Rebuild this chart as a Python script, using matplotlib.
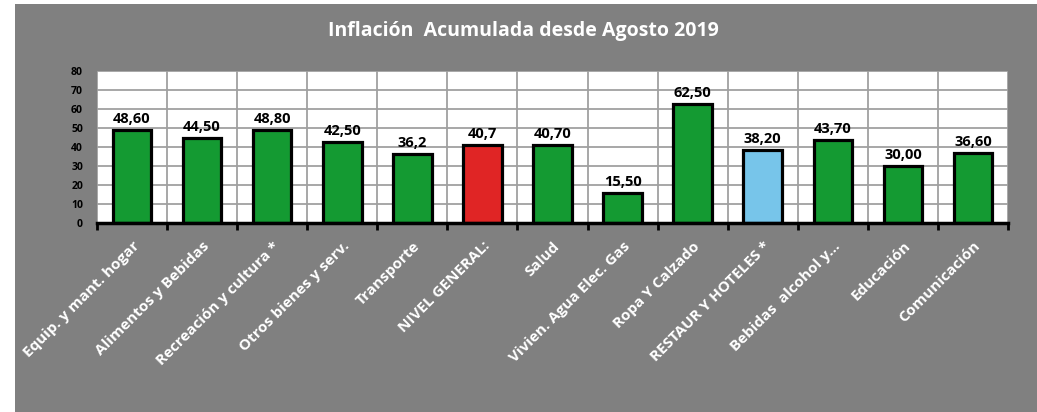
import matplotlib.pyplot as plt
from matplotlib.patches import Rectangle

categories = ['Equip. y mant. hogar', 'Alimentos y Bebidas', 'Recreación y cultura *',
              'Otros bienes y serv.', 'Transporte', 'NIVEL GENERAL:', 'Salud',
              'Vivien. Agua Elec. Gas', 'Ropa Y Calzado', 'RESTAUR Y HOTELES *',
              'Bebidas  alcohol y...', 'Educación', 'Comunicación']
values = [48.6, 44.5, 48.8, 42.5, 36.2, 40.7, 40.7, 15.5, 62.5, 38.2, 43.7, 30.0, 36.6]
value_labels = ['48,60', '44,50', '48,80', '42,50', '36,2', '40,7', '40,70',
                '15,50', '62,50', '38,20', '43,70', '30,00', '36,60']
colors = ['#149a32'] * 13
colors[5] = '#e02525'
colors[9] = '#77c5ea'

plt.rcParams['font.family'] = ['Open Sans', 'DejaVu Sans']
plt.rcParams['font.weight'] = 'bold'

fig = plt.figure(figsize=(10.37, 4.12), dpi=100)
fig.patches.append(Rectangle((15 / 1037, 0), 1, 1 - 4 / 412, transform=fig.transFigure,
                             facecolor='#808080', edgecolor='none', zorder=-10))

ax = fig.add_axes([97 / 1037, 1 - 222.5 / 412, 911 / 1037, 151.5 / 412])
ax.set_facecolor('white')
x = range(len(values))
ax.bar(x, values, width=0.55, color=colors, edgecolor='black', linewidth=2.3, zorder=3)
for i, (v, s) in enumerate(zip(values, value_labels)):
    ax.annotate(s, (i, v), xytext=(0, 3), textcoords='offset points', ha='center', va='bottom',
                fontsize=10.5, fontweight='bold', color='black')

ax.set_xlim(-0.5, len(values) - 0.5)
ax.set_ylim(0, 80)
ax.set_yticks(range(0, 81, 10))
ax.set_xticks([i - 0.5 for i in range(len(values) + 1)], minor=True)
ax.set_xticks(list(x))
ax.set_xticklabels(categories, rotation=45, ha='right', rotation_mode='anchor',
                   color='white', fontsize=11, fontweight='bold')
ax.tick_params(axis='x', which='major', length=0, pad=12)
ax.tick_params(axis='x', which='minor', length=5, width=2, color='black')
ax.tick_params(axis='y', length=0, pad=10, labelsize=7.5, labelcolor='black')
for lbl in ax.get_yticklabels():
    lbl.set_fontweight('bold')
ax.grid(axis='y', color='#a0a0a0', linewidth=1.3, zorder=0)
ax.grid(axis='x', which='minor', color='#a0a0a0', linewidth=1.3, zorder=0)
for side in ['top', 'right', 'left']:
    ax.spines[side].set_visible(False)
ax.spines['bottom'].set_linewidth(2.5)
ax.spines['bottom'].set_zorder(4)

fig.text(0.505, 1 - 31 / 412, 'Inflación  Acumulada desde Agosto 2019', ha='center', va='center',
         color='white', fontsize=14, fontweight='bold')

fig.savefig('out.png', dpi=100, facecolor='white')
